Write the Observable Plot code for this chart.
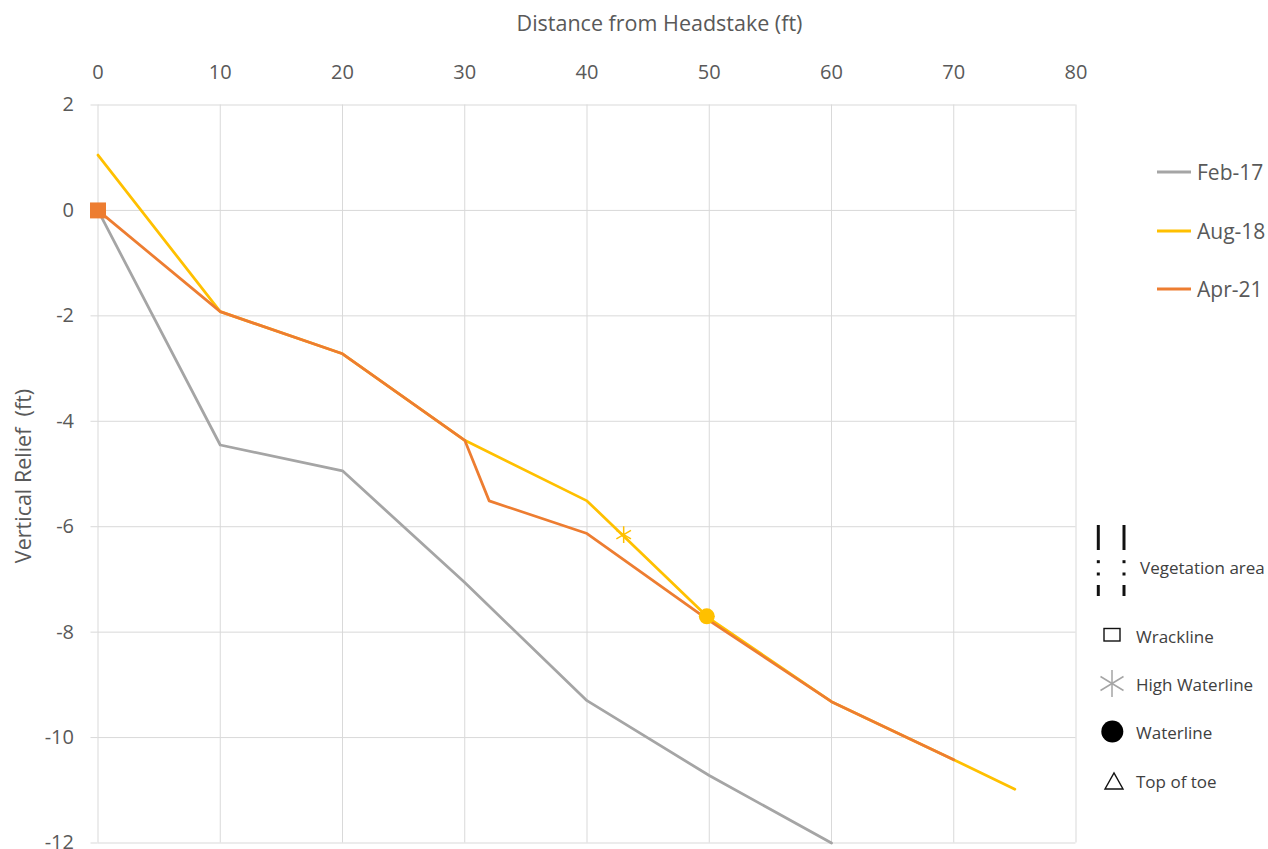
<!DOCTYPE html>
<html>
<head>
<meta charset="utf-8">
<script src="https://cdn.jsdelivr.net/npm/d3@7"></script>
<script src="https://cdn.jsdelivr.net/npm/@observablehq/plot@0.6"></script>
<style>
  html, body { margin: 0; padding: 0; background: #ffffff; }
  #wrap { position: relative; width: 1268px; height: 849px; font-family: "Open Sans", sans-serif; color: #595959; }
  #chart { position: absolute; left: 0; top: 0; }
  .abs { position: absolute; white-space: pre; }
  #xtitle { font-size: 21.5px; transform: translate(-50%, -50%); }
  #ytitle { font-size: 21.5px; transform: translate(-50%, -50%) rotate(-90deg); }
  .leg1 { position: absolute; display: flex; align-items: center; font-size: 21px; color: #595959; transform: translateY(-50%); white-space: nowrap; }
  .leg2 { position: absolute; font-size: 17px; color: #404040; transform: translateY(-50%); white-space: nowrap; }
</style>
</head>
<body>
<div id="wrap">
  <div id="chart"></div>
</div>
<script>
// ---- Data ----
const xTicks = [0, 10, 20, 30, 40, 50, 60, 70, 80];
const yTicks = [-12, -10, -8, -6, -4, -2, 0, 2];

const seriesNames = ["Feb-17", "Aug-18", "Apr-21"];
const seriesColors = ["#A5A5A5", "#FFC000", "#ED7D31"];

const distFeb17 = [0, 10, 20, 30, 40, 50, 60];
const reliefFeb17 = [0, -4.45, -4.94, -7.06, -9.30, -10.72, -12.0];

const distAug18 = [0, 10, 20, 30, 40, 50, 60, 70, 75];
const reliefAug18 = [1.05, -1.92, -2.72, -4.36, -5.51, -7.74, -9.32, -10.42, -10.98];

const distApr21 = [0, 10, 20, 30, 32, 40, 50, 60, 70];
const reliefApr21 = [0, -1.92, -2.72, -4.36, -5.51, -6.13, -7.78, -9.32, -10.42];

// feature markers
const wracklineX = [0];      // Apr-21
const wracklineY = [0];
const highWaterX = [43];     // Aug-18
const highWaterY = [-6.15];
const waterlineX = [49.8];   // Aug-18
const waterlineY = [-7.7];

const xTitle = "Distance from Headstake (ft)";
const yTitle = "Vertical Relief  (ft)";
const symbolLegend = ["Vegetation area", "Wrackline", "High Waterline", "Waterline", "Top of toe"];

// ---- Build tables ----
const toRows = (xs, ys) => xs.map((x, i) => ({x, y: ys[i]}));
const feb17 = toRows(distFeb17, reliefFeb17);
const aug18 = toRows(distAug18, reliefAug18);
const apr21 = toRows(distApr21, reliefApr21);
const wrack = toRows(wracklineX, wracklineY);
const highW = toRows(highWaterX, highWaterY);
const water = toRows(waterlineX, waterlineY);

const chart = Plot.plot({
  width: 1268,
  height: 849,
  marginLeft: 97.5,
  marginRight: 192.5,
  marginTop: 104.5,
  marginBottom: 6.5,
  style: {fontFamily: "Open Sans, sans-serif", fontSize: "20px", color: "#595959", background: "transparent", overflow: "visible"},
  x: {domain: [0, 80], axis: null},
  y: {domain: [-12, 2], axis: null},
  marks: [
    Plot.gridX(xTicks, {stroke: "#D9D9D9", strokeOpacity: 1, strokeWidth: 1}),
    Plot.gridY(yTicks, {stroke: "#D9D9D9", strokeOpacity: 1, strokeWidth: 1}),
    Plot.axisX(xTicks, {anchor: "top", tickSize: 0, tickPadding: 26, label: null, fill: "#595959", tickFormat: d => String(d)}),
    Plot.axisY(yTicks, {anchor: "left", tickSize: 7, tickPadding: 17, label: null, stroke: "#D9D9D9", fill: "#595959", tickFormat: d => d < 0 ? "-" + Math.abs(d) : String(d)}),
    Plot.line(feb17, {x: "x", y: "y", stroke: seriesColors[0], strokeWidth: 2.75}),
    Plot.line(aug18, {x: "x", y: "y", stroke: seriesColors[1], strokeWidth: 2.75}),
    Plot.line(apr21, {x: "x", y: "y", stroke: seriesColors[2], strokeWidth: 2.75}),
    Plot.dot(highW, {x: "x", y: "y", symbol: "asterisk", r: 8, stroke: seriesColors[1], strokeWidth: 1.5}),
    Plot.dot(water, {x: "x", y: "y", symbol: "circle", r: 8, fill: seriesColors[1], stroke: "none"}),
    Plot.dot(wrack, {x: "x", y: "y", symbol: "square", r: 9, fill: seriesColors[2], stroke: "none"})
  ]
});
document.getElementById("chart").appendChild(chart);

const wrap = document.getElementById("wrap");
function addDiv(cls, id, html, left, top) {
  const d = document.createElement("div");
  d.className = cls;
  if (id) d.id = id;
  d.innerHTML = html;
  d.style.left = left + "px";
  d.style.top = top + "px";
  wrap.appendChild(d);
  return d;
}
addDiv("abs", "xtitle", xTitle, 659.5, 22);
addDiv("abs", "ytitle", yTitle, 22, 476);

// series legend
const legY = [172, 231, 289];
seriesNames.forEach((name, i) => {
  addDiv("leg1", null,
    `<svg width="36" height="6" style="margin-right:4px"><line x1="0" x2="34" y1="3" y2="3" stroke="${seriesColors[i]}" stroke-width="3"/></svg><span>${name}</span>`,
    1157, legY[i]);
});

// symbol legend icons
const icons = document.createElementNS("http://www.w3.org/2000/svg", "svg");
icons.setAttribute("width", "60");
icons.setAttribute("height", "300");
icons.style.position = "absolute";
icons.style.left = "1080px";
icons.style.top = "510px";
icons.innerHTML = `
  <g stroke="#111" stroke-width="3" fill="#111">
    <line x1="18.3" x2="18.3" y1="15" y2="40"/>
    <line x1="44" x2="44" y1="15" y2="40"/>
    <rect x="16.8" y="50.2" width="3" height="3" stroke="none"/>
    <rect x="42.5" y="50.2" width="3" height="3" stroke="none"/>
    <rect x="16.8" y="62.5" width="3" height="3" stroke="none"/>
    <rect x="42.5" y="62.5" width="3" height="3" stroke="none"/>
    <line x1="18.3" x2="18.3" y1="75" y2="86"/>
    <line x1="44" x2="44" y1="75" y2="86"/>
  </g>
  <rect x="24" y="118.5" width="16" height="12.5" fill="none" stroke="#111" stroke-width="1.4"/>
  <g stroke="#A5A5A5" stroke-width="1.5">
    <line x1="32" x2="32" y1="160" y2="187"/>
    <line x1="20.5" x2="43.5" y1="166.5" y2="180.5"/>
    <line x1="20.5" x2="43.5" y1="180.5" y2="166.5"/>
  </g>
  <circle cx="32.3" cy="221.5" r="11" fill="#000"/>
  <path d="M25,279 L43,279 L34,263 Z" fill="none" stroke="#111" stroke-width="1.4"/>
`;
wrap.appendChild(icons);

const leg2X = [1140, 1136, 1136, 1136, 1136];
const leg2Y = [567, 636, 684, 732, 781];
symbolLegend.forEach((t, i) => addDiv("leg2", null, t, leg2X[i], leg2Y[i]));
</script>
</body>
</html>
